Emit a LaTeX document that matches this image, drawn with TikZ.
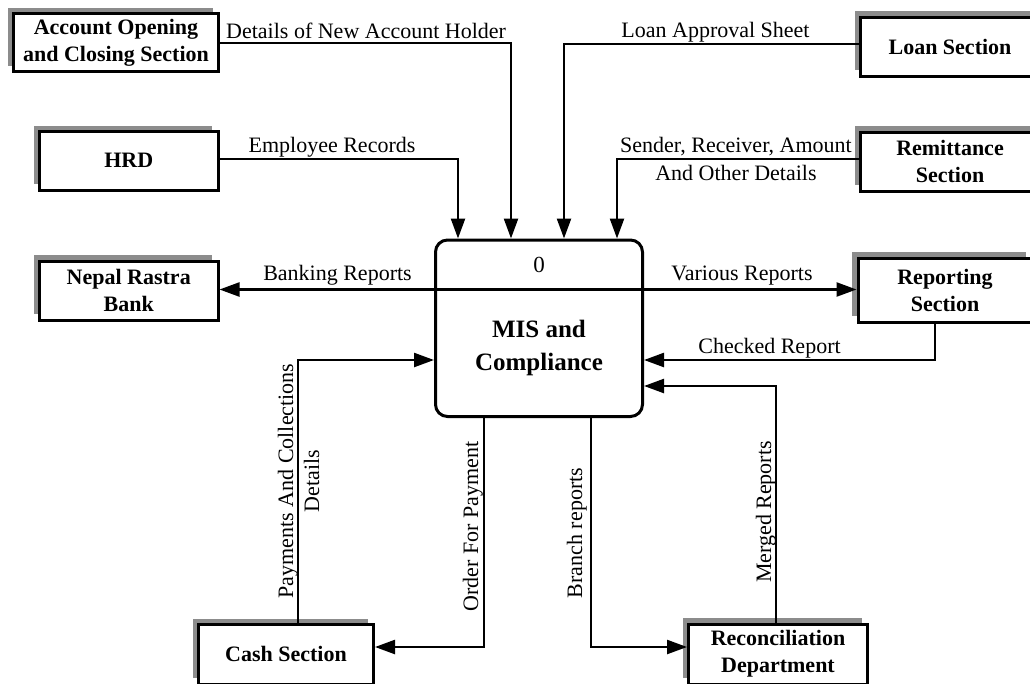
\documentclass[tikz,border=0pt]{standalone}
\usepackage{fontspec}
\setmainfont{Liberation Serif}
\usetikzlibrary{arrows.meta,shadows}

\begin{document}
\begin{tikzpicture}[x=1pt,y=-1pt,
  flow/.style={line width=2.4pt,-{Triangle[length=20pt,width=14pt]}},
  lbl/.style={font=\fontsize{22}{26}\selectfont,inner sep=0pt},
  vlbl/.style={lbl,rotate=90,anchor=base},
  entity/.style={draw,line width=3pt,fill=white,inner sep=0pt,align=center,
    font=\fontsize{22}{27}\selectfont\bfseries,
    general shadow={fill=black!45,shadow xshift=-6pt,shadow yshift=6pt}},
  process/.style={draw,line width=3pt,fill=white,rounded corners=12pt,inner sep=0pt}]

% canvas
\clip (0,0) rectangle (1030,683);
\fill[white] (0,0) rectangle (1030,683);

% external entities
\node[entity,minimum width=205pt,minimum height=58pt] (acc) at (116,42.5)
  {Account Opening\\and Closing Section};
\node[entity,minimum width=179pt,minimum height=59pt] (loan) at (950,46.5)
  {Loan Section};
\node[entity,minimum width=178.5pt,minimum height=58.5pt] (hrd) at (128.75,160.75)
  {HRD};
\node[entity,minimum width=179pt,minimum height=59pt] (rem) at (950,161.5)
  {Remittance\\Section};
\node[entity,minimum width=178.5pt,minimum height=59pt] (nrb) at (128.75,290.5)
  {Nepal Rastra\\Bank};
\node[entity,minimum width=174pt,minimum height=64pt] (rep) at (945,290)
  {Reporting\\Section};
\node[entity,minimum width=175pt,minimum height=59.5pt] (cash) at (286,654.25)
  {Cash Section};
\node[entity,minimum width=179pt,minimum height=60pt] (rec) at (778,654)
  {Reconciliation\\Department};

% central process
\node[process,minimum width=207pt,minimum height=176.5pt] (proc) at (539,328.25) {};
\coordinate (yB) at (0,289.5);
\draw[line width=3pt] (proc.west |- yB) -- (proc.east |- yB);
\node[font=\fontsize{23}{27}\selectfont,inner sep=0pt] (procid) at (539,265) {0};
\node[font=\fontsize{25}{33}\selectfont\bfseries,align=center,inner sep=0pt] (procname)
  at (539,347.7) {MIS and\\Compliance};

% bend points of the data flows
\coordinate (bAcc) at (511,43);
\coordinate (bHrd) at (458,159);
\coordinate (bLoan) at (564,44);
\coordinate (bRem) at (617,159);
\coordinate (bChk) at (935,360);
\coordinate (bMrg) at (776,386);
\coordinate (bPay) at (298,360);
\coordinate (bOrd) at (484,647);
\coordinate (bBr) at (591,647);

% data flows
\draw[flow] (acc.east |- bAcc) -| (proc.north -| bAcc);
\draw[flow] (hrd.east |- bHrd) -| (proc.north -| bHrd);
\draw[flow] (loan.west |- bLoan) -| (proc.north -| bLoan);
\draw[flow] (rem.west |- bRem) -| (proc.north -| bRem);
\draw[flow] (proc.west |- yB) -- (nrb.east |- yB);
\draw[flow] (proc.east |- yB) -- (rep.west |- yB);
\draw[flow] (rep.south -| bChk) |- (proc.east |- bChk);
\draw[flow] (rec.north -| bMrg) |- (proc.east |- bMrg);
\draw[flow] (cash.north -| bPay) |- (proc.west |- bPay);
\draw[flow] (proc.south -| bOrd) |- (cash.east |- bOrd);
\draw[flow] (proc.south -| bBr) |- (rec.west |- bBr);

% flow labels
\node[lbl,anchor=base west] (tAcc) at (226,38) {Details of New Account Holder};
\node[lbl,anchor=base] (tLoan) at (715.5,37) {Loan Approval Sheet};
\node[lbl,anchor=base] (tHrd) at (332,152) {Employee Records};
\node[lbl,anchor=base] (tRemA) at (736,152) {Sender, Receiver, Amount};
\node[lbl,anchor=base] (tRemB) at (736,180) {And Other Details};
\node[lbl,anchor=base] (tBank) at (337.5,280) {Banking Reports};
\node[lbl,anchor=base] (tVar) at (742,280) {Various Reports};
\node[lbl,anchor=base] (tChk) at (769.5,353) {Checked Report};
\node[vlbl] (tMrg) at (771,512) {Merged Reports};
\node[vlbl] (tPayA) at (293,481) {Payments And Collections};
\node[vlbl] (tPayB) at (319,481) {Details};
\node[vlbl] (tOrd) at (478,526.5) {Order For Payment};
\node[vlbl] (tBr) at (582,533) {Branch reports};
\end{tikzpicture}
\end{document}
